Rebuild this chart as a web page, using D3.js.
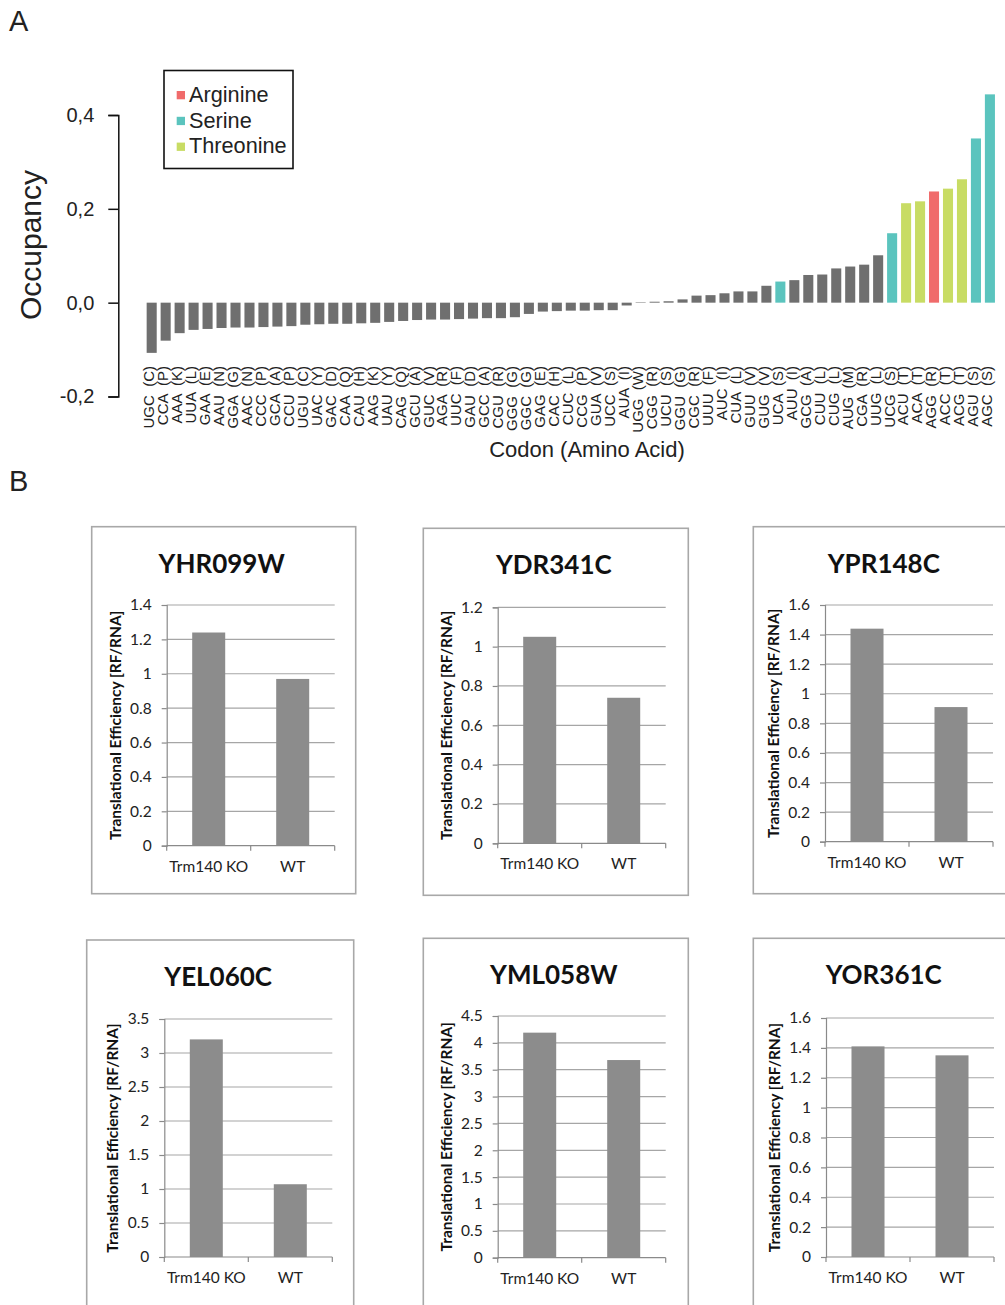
<!DOCTYPE html>
<html>
<head>
<meta charset="utf-8">
<script src="https://cdn.jsdelivr.net/npm/d3@7"></script>
<style>
  body { margin: 0; background: #fff; }
  svg { display: block; }
</style>
</head>
<body>
<script>
const WIDTH = 1005;
const HEIGHT = 1305;

// ---- panel A data ----
const codons = ["UGC","CCA","AAA","UUA","GAA","AAU","GGA","AAC","CCC","GCA","CCU","UGU","UAC","GAC","CAA","CAU","AAG","UAU",
  "CAG","GCU","GUC","AGA","UUC","GAU","GCC","CGU","GGG","GGC","GAG","CAC","CUC","CCG","GUA","UCC","AUA",
  "UGG","CGG","UCU","GGU","CGC","UUU","AUC","CUA","GUU","GUG","UCA","AUU","GCG","CUU","CUG","AUG","CGA","UUG","UCG",
  "ACU","ACA","AGG","ACC","ACG","AGU","AGC"];
const aminoAcids = ["C","P","K","L","E","N","G","N","P","A","P","C","Y","D","Q","H","K","Y",
  "Q","A","V","R","F","D","A","R","G","G","E","H","L","P","V","S","I",
  "W","R","S","G","R","F","I","L","V","V","S","I","A","L","L","M","R","L","S",
  "T","T","R","T","T","S","S"];
const occupancy = [-0.107,-0.081,-0.065,-0.058,-0.056,-0.054,-0.053,-0.053,-0.052,-0.051,-0.050,-0.047,-0.046,-0.045,-0.045,-0.044,-0.043,-0.041,
  -0.039,-0.037,-0.036,-0.036,-0.035,-0.034,-0.033,-0.033,-0.031,-0.024,-0.019,-0.018,-0.017,-0.017,-0.016,-0.016,-0.006,
  0.001,0.002,0.003,0.007,0.015,0.016,0.020,0.024,0.024,0.036,0.045,0.048,0.059,0.060,0.073,0.077,0.081,0.101,0.148,
  0.212,0.216,0.237,0.243,0.263,0.350,0.444];
const highlighted = ["UCA","UCG","ACU","ACA","AGG","ACC","ACG","AGU","AGC"];
const legendNames = ["Arginine","Serine","Threonine"];
const legendCodes = ["R","S","T"];
const legendColors = ["#f06b6b","#5bc4be","#c8dc64"];
const yTicksA = [-0.2, 0, 0.2, 0.4];

// ---- panel B data ----
const genes = ["YHR099W","YDR341C","YPR148C","YEL060C","YML058W","YOR361C"];
const conditions = ["Trm140 KO","WT"];
const koValues = [1.24, 1.05, 1.44, 3.20, 4.19, 1.41];
const wtValues = [0.97, 0.74, 0.91, 1.07, 3.68, 1.35];
const yMaxB = [1.4, 1.2, 1.6, 3.5, 4.5, 1.6];
const yStepB = [0.2, 0.2, 0.2, 0.5, 0.5, 0.2];

const svg = d3.select("body").append("svg")
  .attr("width", WIDTH).attr("height", HEIGHT)
  .style("background", "#fff");

// ================= Panel A =================
const drawPanelA = () => {
  const g = svg.append("g").style("font-family", "'Liberation Sans', Arial, sans-serif");

  g.append("text").attr("x", 9).attr("y", 31).attr("font-size", 29).attr("fill", "#222").text("A");

  const x = d3.scaleBand().domain(codons).range([144.7, 996.9]).paddingInner(0.28).paddingOuter(0.14);
  const y = d3.scaleLinear().domain([-0.2, 0.4]).range([396.5, 115]);

  const colorOf = (c, i) => {
    if (!highlighted.includes(c)) return "#6f6f6f";
    return legendColors[legendCodes.indexOf(aminoAcids[i])];
  };

  g.selectAll("rect.bar").data(codons).enter().append("rect")
    .attr("class", "bar")
    .attr("x", d => x(d))
    .attr("width", x.bandwidth())
    .attr("y", (d, i) => y(Math.max(0, occupancy[i])))
    .attr("height", (d, i) => Math.abs(y(occupancy[i]) - y(0)))
    .attr("fill", (d, i) => colorOf(d, i));

  // hyphen minus, decimal comma like the original
  const axis = d3.axisLeft(y).tickValues(yTicksA).tickSize(10).tickPadding(14)
    .tickFormat(d => (d < 0 ? "-" : "") + Math.abs(d).toFixed(1).replace(".", ","));
  const ax = g.append("g").attr("transform", "translate(118.3,0)").call(axis);
  ax.select(".domain").attr("stroke", "#111").attr("stroke-width", 1.5);
  ax.selectAll(".tick line").attr("stroke", "#111").attr("stroke-width", 1.5);
  ax.selectAll(".tick text").attr("font-size", 20).attr("fill", "#222")
    .style("font-family", "'Liberation Sans', Arial, sans-serif");

  // codon labels
  g.selectAll("text.codon").data(codons).enter().append("text")
    .attr("class", "codon")
    .attr("transform", d => `translate(${x(d) + x.bandwidth() / 2 - 3},366) rotate(-90)`)
    .attr("dy", "0.36em")
    .attr("text-anchor", "end")
    .attr("font-size", 15)
    .attr("fill", "#222")
    .style("white-space", "pre")
    .text((d, i) => d + "  (" + aminoAcids[i] + ")");

  g.append("text")
    .attr("transform", "translate(41,245) rotate(-90)")
    .attr("text-anchor", "middle").attr("font-size", 30).attr("fill", "#222")
    .text("Occupancy");

  g.append("text").attr("x", 587).attr("y", 457)
    .attr("text-anchor", "middle").attr("font-size", 22).attr("fill", "#222")
    .text("Codon (Amino Acid)");

  // legend
  const lg = g.append("g");
  lg.append("rect").attr("x", 164).attr("y", 70.5).attr("width", 129).attr("height", 98)
    .attr("fill", "#fff").attr("stroke", "#111").attr("stroke-width", 1.6);
  legendNames.forEach((name, i) => {
    const yy = 101.7 + i * 25.8;
    lg.append("rect").attr("x", 176.7).attr("y", yy - 10.7).attr("width", 8.3).attr("height", 8.3)
      .attr("fill", legendColors[i]);
    lg.append("text").attr("x", 189).attr("y", yy).attr("font-size", 21.7).attr("fill", "#222").text(name);
  });
};

// ================= Panel B =================
const frames = [
  [91.7, 526.7, 264, 367], [423.3, 528.3, 265, 367], [753.3, 526.7, 265, 367],
  [86.7, 940, 267, 380], [423.3, 938.3, 265, 380], [753.3, 938.3, 265, 380]
];
const plotOffsets = [
  [75, 78.3, 319], [74.4, 79, 315], [71.7, 78.3, 315],
  [77.6, 79, 317], [74.4, 77.7, 319.4], [72.7, 79.7, 318.7]
];
const PLOT_W = 168;

const drawGene = (i) => {
  const [fx, fy, fw, fh] = frames[i];
  const [ox, ot, ob] = plotOffsets[i];
  const g = svg.append("g").style("font-family", "Lato, 'Open Sans', sans-serif");

  g.append("rect").attr("x", fx).attr("y", fy).attr("width", fw).attr("height", fh)
    .attr("fill", "#fff").attr("stroke", "#a8a8a8").attr("stroke-width", 1.6);

  g.append("text").attr("x", fx + fw / 2 - 2).attr("y", fy + 46)
    .attr("text-anchor", "middle").attr("font-size", 26).attr("font-weight", 700).attr("fill", "#111")
    .text(genes[i]);

  const px = fx + ox, top = fy + ot, bottom = fy + ob;
  const plot = g.append("g").attr("transform", `translate(${px},0)`);

  const x = d3.scaleBand().domain(conditions).range([0, PLOT_W]).paddingInner(0.607).paddingOuter(0.3035);
  const y = d3.scaleLinear().domain([0, yMaxB[i]]).range([bottom, top]);
  const ticks = d3.range(0, yMaxB[i] + 1e-9, yStepB[i]).map(v => +v.toFixed(2));

  // gridlines
  plot.selectAll("line.grid").data(ticks.filter(t => t > 0)).enter().append("line")
    .attr("x1", 0).attr("x2", PLOT_W)
    .attr("y1", d => y(d)).attr("y2", d => y(d))
    .attr("stroke", "#a6a6a6").attr("stroke-width", 1.2);

  const vals = [koValues[i], wtValues[i]];
  plot.selectAll("rect.bar").data(conditions).enter().append("rect")
    .attr("x", d => x(d)).attr("width", x.bandwidth())
    .attr("y", (d, k) => y(vals[k]))
    .attr("height", (d, k) => y(0) - y(vals[k]))
    .attr("fill", "#8c8c8c");

  const yAxis = d3.axisLeft(y).tickValues(ticks).tickSize(5).tickPadding(10)
    .tickFormat(d3.format("~g"));
  const ya = plot.append("g").call(yAxis);
  ya.select(".domain").attr("stroke", "#8a8a8a").attr("stroke-width", 1.2);
  ya.selectAll(".tick line").attr("stroke", "#8a8a8a").attr("stroke-width", 1.2);
  ya.selectAll(".tick text").attr("font-size", 15.5).attr("fill", "#222")
    .style("font-family", "Lato, 'Open Sans', sans-serif");

  const xAxis = d3.axisBottom(x).tickSize(0).tickPadding(15);
  const xa = plot.append("g").attr("transform", `translate(0,${bottom})`).call(xAxis);
  xa.select(".domain").remove();
  xa.selectAll(".tick text").attr("font-size", 15.5).attr("fill", "#222")
    .style("font-family", "Lato, 'Open Sans', sans-serif");
  plot.append("line").attr("x1", 0).attr("x2", PLOT_W).attr("y1", bottom).attr("y2", bottom)
    .attr("stroke", "#8a8a8a").attr("stroke-width", 1.2);
  [0, PLOT_W / 2, PLOT_W].forEach(t => {
    plot.append("line").attr("x1", t).attr("x2", t).attr("y1", bottom).attr("y2", bottom + 5)
      .attr("stroke", "#8a8a8a").attr("stroke-width", 1.2);
  });

  g.append("text")
    .attr("transform", `translate(${px - 46},${(top + bottom) / 2}) rotate(-90)`)
    .attr("text-anchor", "middle").attr("font-size", 15.5).attr("font-weight", 700).attr("fill", "#111")
    .text("Translational Efficiency [RF/RNA]");
};

const drawPanelB = () => {
  svg.append("text").attr("x", 9).attr("y", 491).attr("font-size", 29).attr("fill", "#222")
    .style("font-family", "'Liberation Sans', Arial, sans-serif").text("B");
  genes.forEach((gname, i) => drawGene(i));
};

drawPanelA();
drawPanelB();
</script>
</body>
</html>
